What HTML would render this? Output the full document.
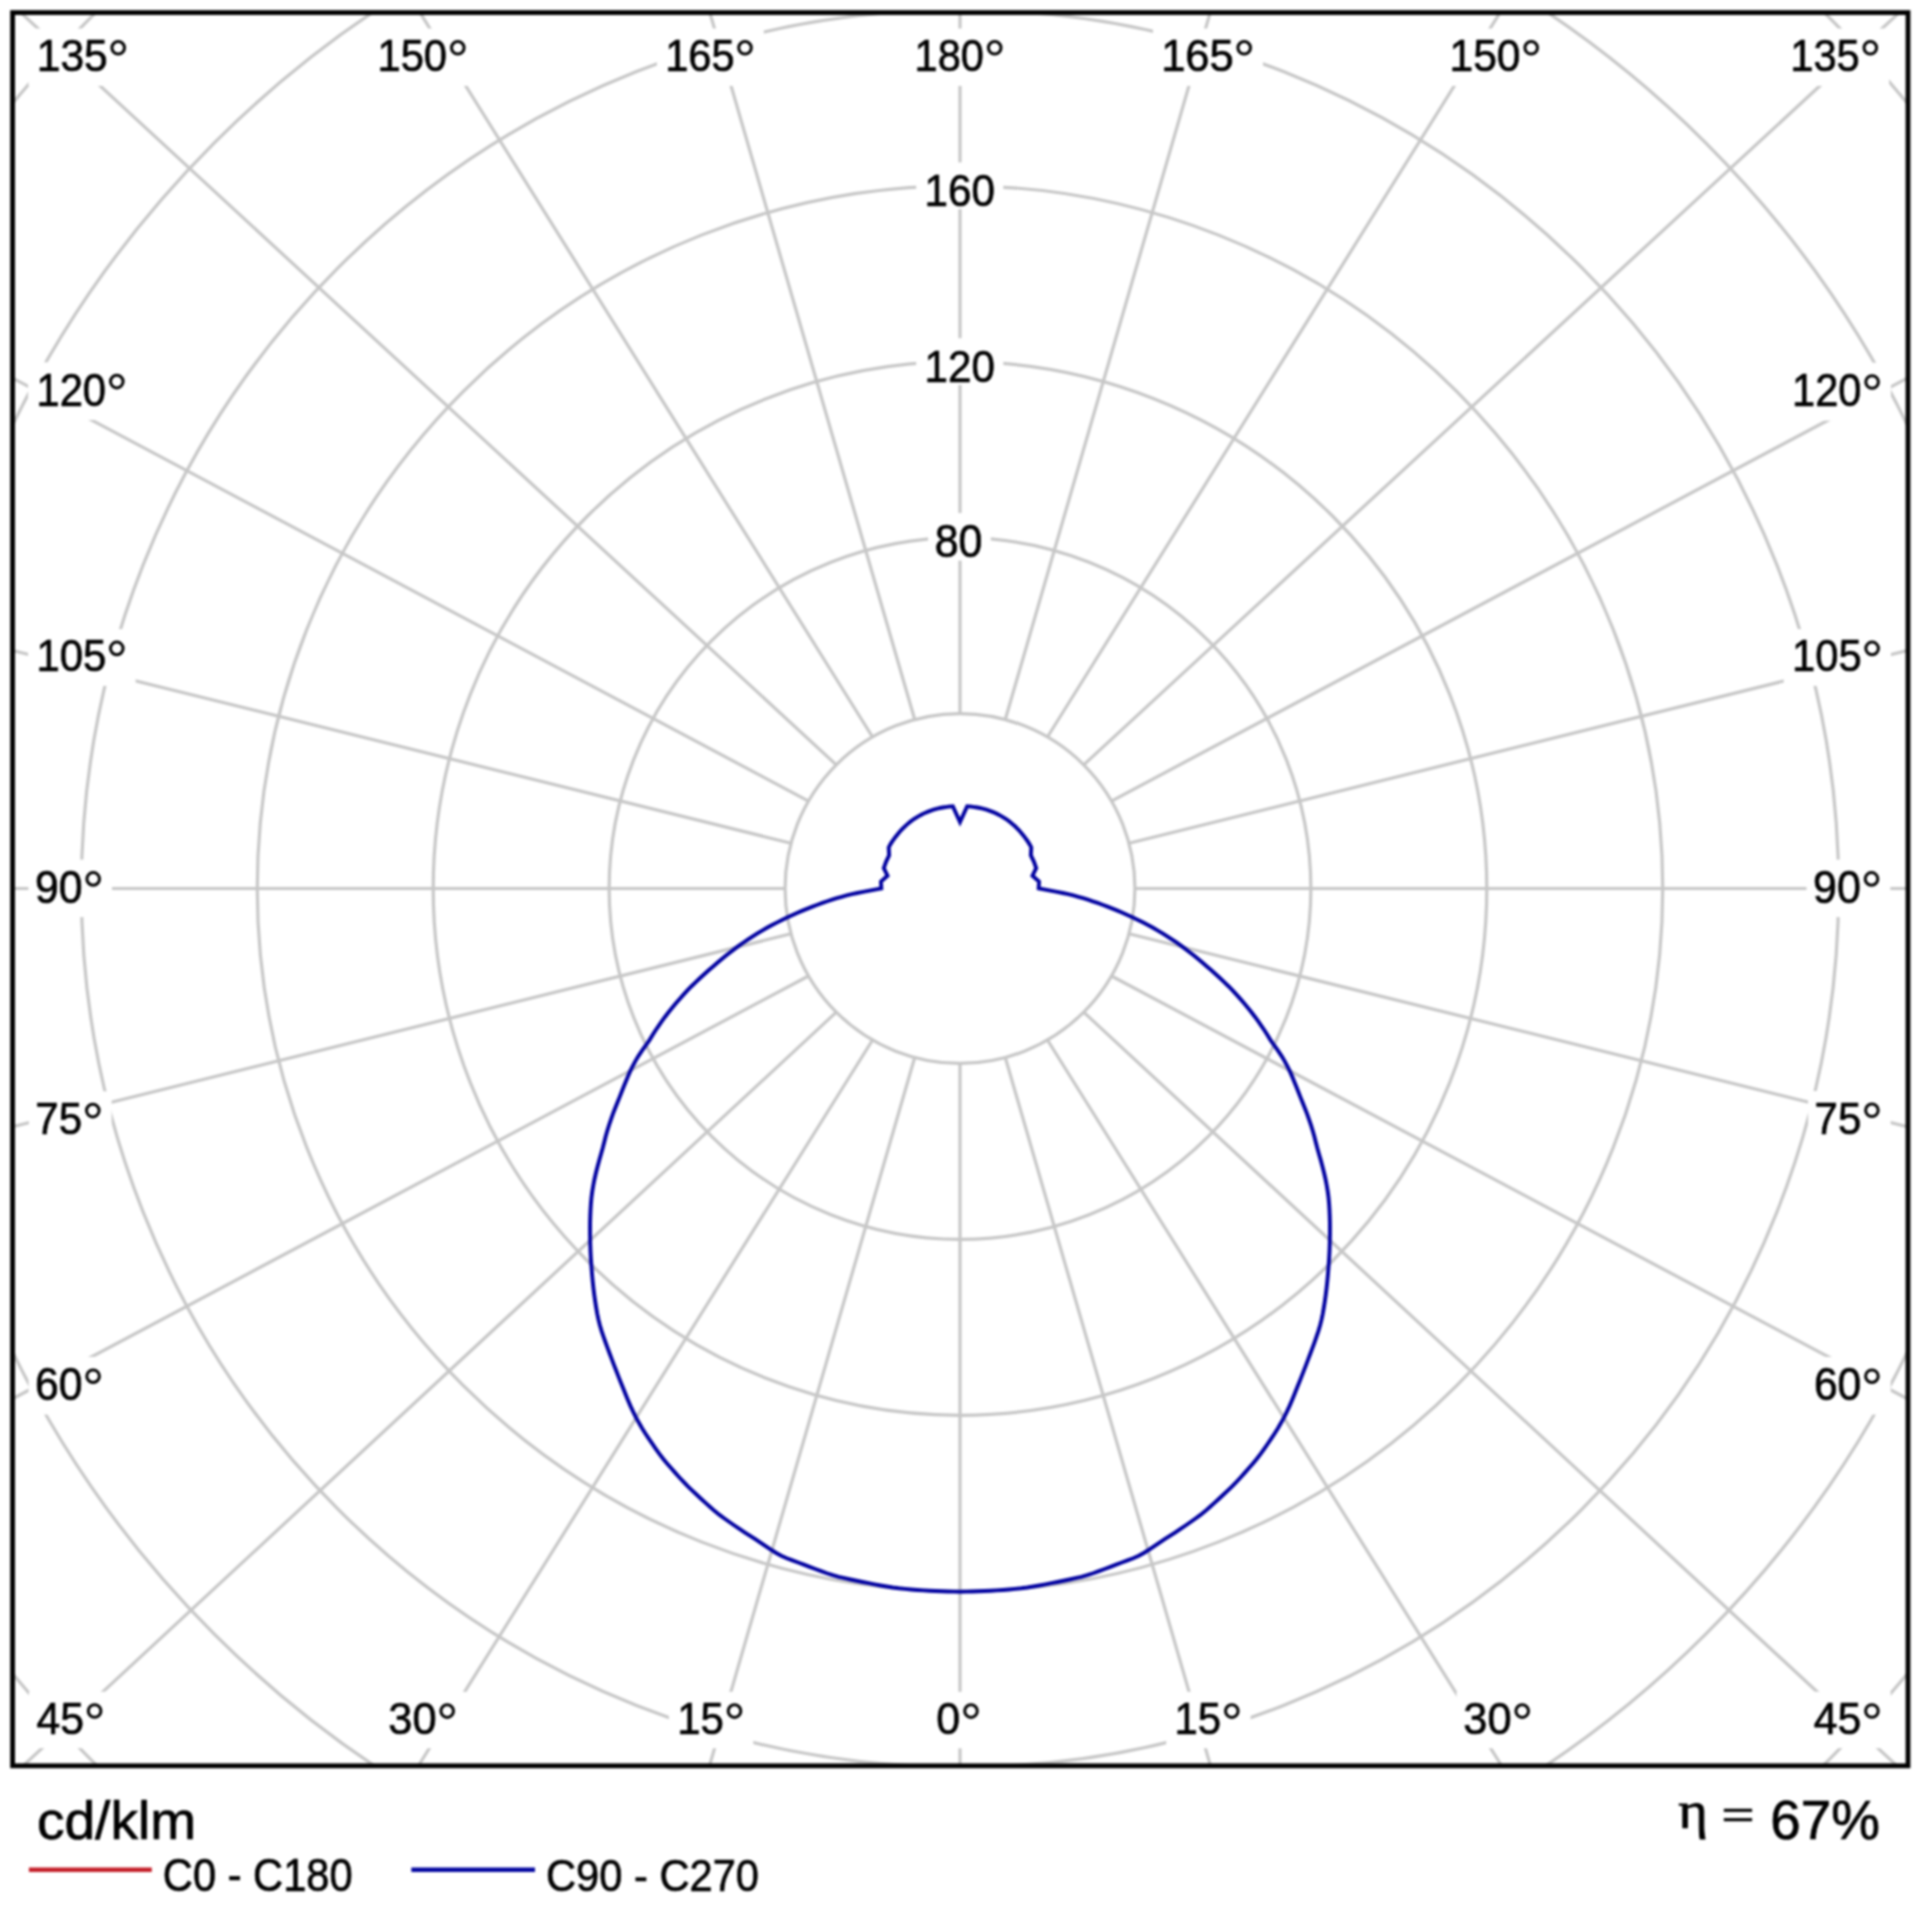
<!DOCTYPE html>
<html><head><meta charset="utf-8"><style>
html,body{margin:0;padding:0;background:#fff;width:1920px;height:1920px;overflow:hidden}
svg{display:block}
#w{position:absolute;left:0;top:0;width:1920px;height:1920px;filter:blur(1px)}
text{font-family:"Liberation Sans",sans-serif;fill:#000;stroke:#000;stroke-width:0.7px}
</style></head><body><div id="w">
<svg width="1920" height="1920" viewBox="0 0 1920 1920">
<defs><clipPath id="cp"><rect x="12.6" y="12.6" width="1895.4" height="1753.2"/></clipPath></defs>
<rect x="0" y="0" width="1920" height="1920" fill="#fff"/>
<g clip-path="url(#cp)">
<g fill="none" stroke="#c7c7c7" stroke-width="3.2">
<circle cx="960.0" cy="888.5" r="174.93"/>
<circle cx="960.0" cy="888.5" r="350.86"/>
<circle cx="960.0" cy="888.5" r="526.79"/>
<circle cx="960.0" cy="888.5" r="702.72"/>
<circle cx="960.0" cy="888.5" r="878.65"/>
<circle cx="960.0" cy="888.5" r="1054.58"/>
<circle cx="960.0" cy="888.5" r="1230.51"/>
<circle cx="960.0" cy="888.5" r="1406.44"/>
<line x1="960.00" y1="713.57" x2="960.00" y2="-27.50"/>
<line x1="914.72" y1="719.53" x2="698.66" y2="-25.92"/>
<line x1="1005.28" y1="719.53" x2="1221.34" y2="-25.92"/>
<line x1="872.53" y1="737.01" x2="398.71" y2="-21.42"/>
<line x1="1047.46" y1="737.01" x2="1521.29" y2="-21.42"/>
<line x1="836.31" y1="764.81" x2="-8.80" y2="-14.62"/>
<line x1="1083.69" y1="764.81" x2="1928.80" y2="-14.62"/>
<line x1="808.51" y1="801.04" x2="-22.82" y2="359.23"/>
<line x1="1111.49" y1="801.04" x2="1942.82" y2="359.23"/>
<line x1="791.03" y1="843.22" x2="-26.33" y2="640.78"/>
<line x1="1128.97" y1="843.22" x2="1946.33" y2="640.78"/>
<line x1="785.07" y1="888.50" x2="-27.50" y2="888.50"/>
<line x1="1134.93" y1="888.50" x2="1947.50" y2="888.50"/>
<line x1="791.03" y1="933.78" x2="-26.33" y2="1136.37"/>
<line x1="1128.97" y1="933.78" x2="1946.33" y2="1136.37"/>
<line x1="808.51" y1="975.97" x2="-22.82" y2="1417.67"/>
<line x1="1111.49" y1="975.97" x2="1942.82" y2="1417.67"/>
<line x1="836.31" y1="1012.19" x2="-6.24" y2="1792.94"/>
<line x1="1083.69" y1="1012.19" x2="1926.24" y2="1792.94"/>
<line x1="872.53" y1="1039.99" x2="397.18" y2="1799.66"/>
<line x1="1047.46" y1="1039.99" x2="1522.82" y2="1799.66"/>
<line x1="914.72" y1="1057.47" x2="698.37" y2="1804.17"/>
<line x1="1005.28" y1="1057.47" x2="1221.63" y2="1804.17"/>
<line x1="960.00" y1="1063.43" x2="960.00" y2="1805.75"/>
</g>
<g fill="#fff" stroke="none">
<rect x="28.5" y="28.5" width="108.5" height="57.4"/>
<rect x="369.1" y="28.5" width="107.5" height="57.4"/>
<rect x="656.9" y="28.5" width="106.9" height="57.4"/>
<rect x="906.3" y="28.5" width="107.2" height="57.4"/>
<rect x="1153.0" y="28.5" width="110.0" height="57.4"/>
<rect x="1441.2" y="28.5" width="108.8" height="57.4"/>
<rect x="1781.9" y="28.5" width="107.2" height="57.4"/>
<rect x="28.1" y="362.3" width="107.5" height="57.7"/>
<rect x="28.1" y="629.1" width="107.5" height="56.8"/>
<rect x="28.4" y="859.6" width="83.6" height="57.5"/>
<rect x="28.9" y="1091.3" width="82.7" height="56.7"/>
<rect x="28.6" y="1356.9" width="83.3" height="57.7"/>
<rect x="28.9" y="1691.7" width="84.5" height="56.5"/>
<rect x="1783.7" y="362.7" width="107.2" height="58.0"/>
<rect x="1783.7" y="629.1" width="107.2" height="56.8"/>
<rect x="1806.5" y="859.6" width="83.8" height="57.5"/>
<rect x="1808.1" y="1091.0" width="82.6" height="57.0"/>
<rect x="1807.5" y="1356.9" width="83.2" height="57.7"/>
<rect x="1806.2" y="1691.7" width="84.5" height="56.5"/>
<rect x="381.5" y="1691.8" width="84.5" height="56.5"/>
<rect x="668.9" y="1691.8" width="84.4" height="56.5"/>
<rect x="929.5" y="1691.8" width="60.3" height="56.5"/>
<rect x="1166.2" y="1691.8" width="84.4" height="56.5"/>
<rect x="1456.5" y="1691.8" width="84.5" height="56.5"/>
<rect x="916.2" y="162.4" width="87.1" height="46.7"/>
<rect x="916.2" y="338.2" width="87.1" height="46.8"/>
<rect x="928.1" y="513.0" width="62.7" height="47.6"/>
</g>
<path d="M960.00,1591.68 L953.86,1591.62 L947.73,1591.48 L941.60,1591.29 L935.47,1591.04 L929.34,1590.74 L923.22,1590.38 L917.10,1589.95 L910.98,1589.47 L904.88,1588.92 L898.78,1588.30 L892.69,1587.51 L886.63,1586.53 L880.59,1585.47 L874.56,1584.36 L868.54,1583.19 L862.54,1581.99 L856.54,1580.77 L850.56,1579.51 L844.59,1578.18 L838.64,1576.78 L832.73,1575.18 L826.90,1573.26 L821.11,1571.16 L815.36,1568.99 L809.62,1566.81 L803.90,1564.66 L798.18,1562.54 L792.47,1560.42 L786.79,1558.25 L781.19,1555.82 L775.79,1552.75 L770.51,1549.32 L765.29,1545.84 L760.09,1542.36 L754.92,1538.94 L749.74,1535.62 L744.58,1532.32 L739.48,1528.94 L734.43,1525.50 L729.42,1522.02 L724.45,1518.50 L719.54,1514.92 L714.76,1511.09 L710.13,1506.95 L705.54,1502.83 L700.99,1498.70 L696.49,1494.53 L692.04,1490.35 L687.64,1486.14 L683.38,1481.72 L679.20,1477.21 L675.09,1472.66 L671.03,1468.08 L667.03,1463.48 L663.12,1458.80 L659.38,1453.88 L655.77,1448.83 L652.23,1443.73 L648.76,1438.62 L645.36,1433.48 L642.07,1428.23 L638.94,1422.83 L635.95,1417.31 L633.10,1411.65 L630.41,1405.85 L627.88,1399.92 L625.45,1393.95 L623.07,1388.02 L620.72,1382.16 L618.40,1376.35 L616.14,1370.58 L613.92,1364.83 L611.76,1359.12 L609.63,1353.46 L607.52,1347.86 L605.47,1342.28 L603.49,1336.70 L601.62,1331.07 L599.89,1325.34 L598.40,1319.44 L597.16,1313.33 L596.09,1307.13 L595.12,1300.92 L594.25,1294.70 L593.48,1288.49 L592.80,1282.27 L592.21,1276.06 L591.70,1269.88 L591.24,1263.75 L590.84,1257.66 L590.52,1251.58 L590.29,1245.53 L590.13,1239.49 L590.05,1233.49 L590.03,1227.52 L590.09,1221.57 L590.27,1215.61 L590.54,1209.67 L590.91,1203.73 L591.44,1197.75 L592.23,1191.66 L593.26,1185.48 L594.48,1179.25 L595.90,1172.97 L597.49,1166.67 L599.18,1160.39 L600.96,1154.18 L602.72,1148.08 L604.22,1142.28 L605.58,1136.67 L607.21,1130.97 L609.01,1125.24 L610.91,1119.56 L612.93,1113.89 L615.13,1108.21 L617.42,1102.57 L619.60,1097.10 L621.69,1091.78 L623.76,1086.56 L625.83,1081.43 L627.91,1076.39 L630.12,1071.35 L632.58,1066.27 L635.36,1061.11 L638.54,1055.84 L642.18,1050.44 L646.12,1044.99 L649.62,1039.88 L652.44,1035.20 L655.44,1030.52 L658.64,1025.84 L661.88,1021.23 L665.14,1016.71 L668.54,1012.22 L672.18,1007.72 L675.90,1003.28 L679.68,998.92 L683.51,994.64 L687.41,990.42 L691.50,986.23 L695.77,982.07 L700.11,977.99 L704.50,973.99 L708.94,970.07 L713.39,966.26 L717.65,962.59 L721.84,959.05 L726.08,955.58 L730.36,952.19 L734.67,948.88 L739.04,945.64 L743.53,942.47 L748.11,939.37 L752.74,936.35 L757.40,933.41 L762.10,930.56 L766.96,927.77 L772.05,925.03 L777.25,922.37 L782.47,919.80 L787.60,917.35 L792.59,915.02 L797.53,912.78 L802.50,910.64 L807.50,908.58 L812.52,906.61 L817.52,904.73 L822.45,902.96 L827.29,901.28 L832.07,899.69 L836.84,898.19 L841.69,896.77 L846.68,895.43 L851.86,894.17 L857.25,892.99 L862.99,891.89 L881.30,888.50 L881.00,881.59 L887.52,875.72 L883.79,868.08 L886.14,861.62 L889.13,855.45 L888.73,847.35 L889.42,846.09 L890.14,844.85 L890.88,843.61 L891.64,842.39 L892.42,841.18 L893.24,840.00 L894.08,838.83 L894.94,837.67 L895.82,836.53 L896.72,835.41 L897.62,834.27 L898.53,833.15 L899.46,832.04 L900.41,830.95 L901.38,829.88 L902.39,828.84 L903.41,827.81 L904.45,826.80 L905.51,825.81 L906.58,824.84 L907.68,823.89 L908.79,822.95 L909.92,822.04 L911.06,821.14 L912.22,820.26 L913.42,819.44 L914.63,818.64 L915.86,817.86 L917.10,817.10 L918.35,816.36 L919.62,815.64 L920.89,814.95 L922.18,814.28 L923.48,813.63 L924.80,813.00 L926.13,812.42 L927.47,811.86 L928.82,811.32 L930.18,810.81 L931.54,810.32 L932.93,809.87 L934.31,809.45 L935.71,809.05 L937.11,808.68 L938.52,808.33 L939.93,808.02 L941.36,807.74 L942.78,807.49 L944.21,807.26 L945.64,807.06 L947.07,806.86 L948.50,806.68 L949.94,806.54 L951.37,806.41 L952.81,806.31 L960.00,822.00 L967.19,806.31 L968.63,806.41 L970.06,806.54 L971.50,806.68 L972.93,806.86 L974.36,807.06 L975.79,807.26 L977.22,807.49 L978.64,807.74 L980.07,808.02 L981.48,808.33 L982.89,808.68 L984.29,809.05 L985.69,809.45 L987.07,809.87 L988.46,810.32 L989.82,810.81 L991.18,811.32 L992.53,811.86 L993.87,812.42 L995.20,813.00 L996.52,813.63 L997.82,814.28 L999.11,814.95 L1000.38,815.64 L1001.65,816.36 L1002.90,817.10 L1004.14,817.86 L1005.37,818.64 L1006.58,819.44 L1007.78,820.26 L1008.94,821.14 L1010.08,822.04 L1011.21,822.95 L1012.32,823.89 L1013.42,824.84 L1014.49,825.81 L1015.55,826.80 L1016.59,827.81 L1017.61,828.84 L1018.62,829.88 L1019.59,830.95 L1020.54,832.04 L1021.47,833.15 L1022.38,834.27 L1023.28,835.41 L1024.18,836.53 L1025.06,837.67 L1025.92,838.83 L1026.76,840.00 L1027.58,841.18 L1028.36,842.39 L1029.12,843.61 L1029.86,844.85 L1030.58,846.09 L1031.27,847.35 L1030.87,855.45 L1033.86,861.62 L1036.21,868.08 L1032.48,875.72 L1039.00,881.59 L1038.70,888.50 L1057.01,891.89 L1062.75,892.99 L1068.14,894.17 L1073.32,895.43 L1078.31,896.77 L1083.16,898.19 L1087.93,899.69 L1092.71,901.28 L1097.55,902.96 L1102.48,904.73 L1107.48,906.61 L1112.50,908.58 L1117.50,910.64 L1122.47,912.78 L1127.41,915.02 L1132.40,917.35 L1137.53,919.80 L1142.75,922.37 L1147.95,925.03 L1153.04,927.77 L1157.90,930.56 L1162.60,933.41 L1167.26,936.35 L1171.89,939.37 L1176.47,942.47 L1180.96,945.64 L1185.33,948.88 L1189.64,952.19 L1193.92,955.58 L1198.16,959.05 L1202.35,962.59 L1206.61,966.26 L1211.06,970.07 L1215.50,973.99 L1219.89,977.99 L1224.23,982.07 L1228.50,986.23 L1232.59,990.42 L1236.49,994.64 L1240.32,998.92 L1244.10,1003.28 L1247.82,1007.72 L1251.46,1012.22 L1254.86,1016.71 L1258.12,1021.23 L1261.36,1025.84 L1264.56,1030.52 L1267.56,1035.20 L1270.38,1039.88 L1273.88,1044.99 L1277.82,1050.44 L1281.46,1055.84 L1284.64,1061.11 L1287.42,1066.27 L1289.88,1071.35 L1292.09,1076.39 L1294.17,1081.43 L1296.24,1086.56 L1298.31,1091.78 L1300.40,1097.10 L1302.58,1102.57 L1304.87,1108.21 L1307.07,1113.89 L1309.09,1119.56 L1310.99,1125.24 L1312.79,1130.97 L1314.42,1136.67 L1315.78,1142.28 L1317.28,1148.08 L1319.04,1154.18 L1320.82,1160.39 L1322.51,1166.67 L1324.10,1172.97 L1325.52,1179.25 L1326.74,1185.48 L1327.77,1191.66 L1328.56,1197.75 L1329.09,1203.73 L1329.46,1209.67 L1329.73,1215.61 L1329.91,1221.57 L1329.97,1227.52 L1329.95,1233.49 L1329.87,1239.49 L1329.71,1245.53 L1329.48,1251.58 L1329.16,1257.66 L1328.76,1263.75 L1328.30,1269.88 L1327.79,1276.06 L1327.20,1282.27 L1326.52,1288.49 L1325.75,1294.70 L1324.88,1300.92 L1323.91,1307.13 L1322.84,1313.33 L1321.60,1319.44 L1320.11,1325.34 L1318.38,1331.07 L1316.51,1336.70 L1314.53,1342.28 L1312.48,1347.86 L1310.37,1353.46 L1308.24,1359.12 L1306.08,1364.83 L1303.86,1370.58 L1301.60,1376.35 L1299.28,1382.16 L1296.93,1388.02 L1294.55,1393.95 L1292.12,1399.92 L1289.59,1405.85 L1286.90,1411.65 L1284.05,1417.31 L1281.06,1422.83 L1277.93,1428.23 L1274.64,1433.48 L1271.24,1438.62 L1267.77,1443.73 L1264.23,1448.83 L1260.62,1453.88 L1256.88,1458.80 L1252.97,1463.48 L1248.97,1468.08 L1244.91,1472.66 L1240.80,1477.21 L1236.62,1481.72 L1232.36,1486.14 L1227.96,1490.35 L1223.51,1494.53 L1219.01,1498.70 L1214.46,1502.83 L1209.87,1506.95 L1205.24,1511.09 L1200.46,1514.92 L1195.55,1518.50 L1190.58,1522.02 L1185.57,1525.50 L1180.52,1528.94 L1175.42,1532.32 L1170.26,1535.62 L1165.08,1538.94 L1159.91,1542.36 L1154.71,1545.84 L1149.49,1549.32 L1144.21,1552.75 L1138.81,1555.82 L1133.21,1558.25 L1127.53,1560.42 L1121.82,1562.54 L1116.10,1564.66 L1110.38,1566.81 L1104.64,1568.99 L1098.89,1571.16 L1093.10,1573.26 L1087.27,1575.18 L1081.36,1576.78 L1075.41,1578.18 L1069.44,1579.51 L1063.46,1580.77 L1057.46,1581.99 L1051.46,1583.19 L1045.44,1584.36 L1039.41,1585.47 L1033.37,1586.53 L1027.31,1587.51 L1021.22,1588.30 L1015.12,1588.92 L1009.02,1589.47 L1002.90,1589.95 L996.78,1590.38 L990.66,1590.74 L984.53,1591.04 L978.40,1591.29 L972.27,1591.48 L966.14,1591.62 L960.00,1591.68 Z" fill="none" stroke="#0000a0" stroke-width="3.9" stroke-linejoin="miter" stroke-miterlimit="10"/>
</g>
<rect x="12.6" y="12.6" width="1895.4" height="1753.2" fill="none" stroke="#000" stroke-width="4.8"/>
<g>
<text transform="matrix(0.9314 0 0 0.9891 36.74 71.41)" font-size="45.7">135</text>
<circle cx="118.20" cy="47.80" r="6.30" fill="none" stroke="#000" stroke-width="3"/>
<text transform="matrix(0.9141 0 0 0.9891 377.40 71.41)" font-size="45.7">150</text>
<circle cx="457.80" cy="47.80" r="6.30" fill="none" stroke="#000" stroke-width="3"/>
<text transform="matrix(0.9088 0 0 0.9891 665.22 71.41)" font-size="45.7">165</text>
<circle cx="745.00" cy="47.80" r="6.30" fill="none" stroke="#000" stroke-width="3"/>
<text transform="matrix(0.9099 0 0 0.9891 914.62 71.41)" font-size="45.7">180</text>
<circle cx="994.70" cy="47.80" r="6.30" fill="none" stroke="#000" stroke-width="3"/>
<text transform="matrix(0.9527 0 0 0.9891 1161.17 71.41)" font-size="45.7">165</text>
<circle cx="1244.20" cy="47.80" r="6.30" fill="none" stroke="#000" stroke-width="3"/>
<text transform="matrix(0.9324 0 0 0.9891 1449.44 71.41)" font-size="45.7">150</text>
<circle cx="1531.20" cy="47.80" r="6.30" fill="none" stroke="#000" stroke-width="3"/>
<text transform="matrix(0.9131 0 0 0.9891 1790.20 71.41)" font-size="45.7">135</text>
<circle cx="1870.30" cy="47.80" r="6.30" fill="none" stroke="#000" stroke-width="3"/>
<text transform="matrix(0.9141 0 0 0.9984 36.40 405.50)" font-size="45.7">120</text>
<circle cx="116.80" cy="381.60" r="6.30" fill="none" stroke="#000" stroke-width="3"/>
<text transform="matrix(0.9173 0 0 0.9705 36.39 671.41)" font-size="45.7">105</text>
<circle cx="116.80" cy="648.40" r="6.30" fill="none" stroke="#000" stroke-width="3"/>
<text transform="matrix(0.9362 0 0 0.9922 35.03 902.60)" font-size="45.7">90</text>
<circle cx="93.20" cy="878.90" r="6.30" fill="none" stroke="#000" stroke-width="3"/>
<text transform="matrix(0.9219 0 0 0.9750 35.33 1133.51)" font-size="45.7">75</text>
<circle cx="92.80" cy="1110.60" r="6.30" fill="none" stroke="#000" stroke-width="3"/>
<text transform="matrix(0.9348 0 0 0.9984 35.00 1400.10)" font-size="45.7">60</text>
<circle cx="93.10" cy="1376.20" r="6.30" fill="none" stroke="#000" stroke-width="3"/>
<text transform="matrix(0.9354 0 0 0.9764 36.46 1733.71)" font-size="45.7">45</text>
<circle cx="94.60" cy="1711.00" r="6.30" fill="none" stroke="#000" stroke-width="3"/>
<text transform="matrix(0.9099 0 0 1.0078 1792.02 406.20)" font-size="45.7">120</text>
<circle cx="1872.10" cy="382.00" r="6.30" fill="none" stroke="#000" stroke-width="3"/>
<text transform="matrix(0.9131 0 0 0.9705 1792.00 671.41)" font-size="45.7">105</text>
<circle cx="1872.10" cy="648.40" r="6.30" fill="none" stroke="#000" stroke-width="3"/>
<text transform="matrix(0.9404 0 0 0.9922 1813.12 902.60)" font-size="45.7">90</text>
<circle cx="1871.50" cy="878.90" r="6.30" fill="none" stroke="#000" stroke-width="3"/>
<text transform="matrix(0.9198 0 0 0.9844 1814.53 1133.51)" font-size="45.7">75</text>
<circle cx="1871.90" cy="1110.30" r="6.30" fill="none" stroke="#000" stroke-width="3"/>
<text transform="matrix(0.9326 0 0 0.9984 1813.90 1400.10)" font-size="45.7">60</text>
<circle cx="1871.90" cy="1376.20" r="6.30" fill="none" stroke="#000" stroke-width="3"/>
<text transform="matrix(0.9354 0 0 0.9764 1813.76 1733.71)" font-size="45.7">45</text>
<circle cx="1871.90" cy="1711.00" r="6.30" fill="none" stroke="#000" stroke-width="3"/>
<text transform="matrix(0.9503 0 0 0.9612 388.34 1733.82)" font-size="45.7">30</text>
<circle cx="447.20" cy="1711.10" r="6.30" fill="none" stroke="#000" stroke-width="3"/>
<text transform="matrix(0.9187 0 0 0.9688 677.18 1733.82)" font-size="45.7">15</text>
<circle cx="734.50" cy="1711.10" r="6.30" fill="none" stroke="#000" stroke-width="3"/>
<text transform="matrix(0.9409 0 0 0.9612 936.35 1733.82)" font-size="45.7">0</text>
<circle cx="971.00" cy="1711.10" r="6.30" fill="none" stroke="#000" stroke-width="3"/>
<text transform="matrix(0.9187 0 0 0.9688 1174.48 1733.82)" font-size="45.7">15</text>
<circle cx="1231.80" cy="1711.10" r="6.30" fill="none" stroke="#000" stroke-width="3"/>
<text transform="matrix(0.9503 0 0 0.9612 1463.34 1733.82)" font-size="45.7">30</text>
<circle cx="1522.20" cy="1711.10" r="6.30" fill="none" stroke="#000" stroke-width="3"/>
<text transform="matrix(0.9239 0 0 0.9829 924.47 205.61)" font-size="45.7">160</text>
<text transform="matrix(0.9239 0 0 0.9860 924.47 381.51)" font-size="45.7">120</text>
<text transform="matrix(0.9404 0 0 1.0109 934.72 557.09)" font-size="45.7">80</text>
<text transform="matrix(1.0292 0 0 0.9962 36.98 1838.50)" font-size="53.5">cd/klm</text>
<text transform="matrix(0.9116 0 0 0.9953 162.85 1891.30)" font-size="45.7">C0 - C180</text>
<text transform="matrix(0.9114 0 0 0.9891 546.05 1891.41)" font-size="45.7">C90 - C270</text>
<text transform="matrix(1.2434 0 0 1.1552 1678.27 1828.04)" font-size="45.7" style="font-family:&quot;Liberation Serif&quot;,serif">η</text>
<text transform="matrix(1.2360 0 0 0.8136 1721.62 1827.21)" font-size="45.7">=</text>
<text transform="matrix(1.0234 0 0 1.0464 1770.29 1839.28)" font-size="53.5">67%</text>
</g>
<line x1="28.9" y1="1869.7" x2="151.8" y2="1869.7" stroke="#c41e28" stroke-width="4.5"/>
<line x1="411.3" y1="1869.7" x2="535" y2="1869.7" stroke="#0306a0" stroke-width="4.5"/>
</svg></div>
</body></html>
